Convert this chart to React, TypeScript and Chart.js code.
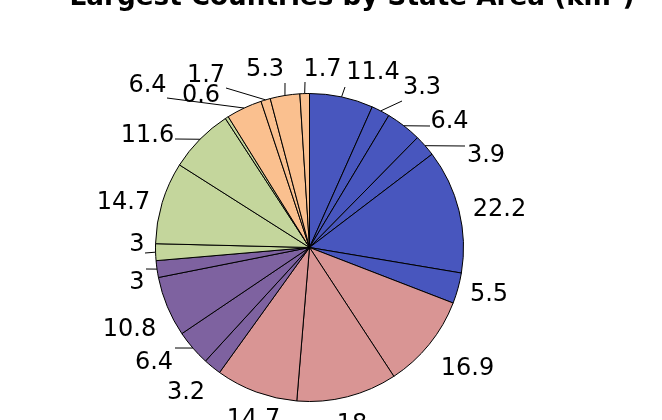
import React, { useEffect, useRef } from "react";
import { Chart, registerables } from "chart.js";

Chart.register(...registerables);

// ---- data ----
const categories = [
  "A1", "A2", "A3", "A4", "A5", "A6",
  "B1", "B2", "B3",
  "C1", "C2", "C3", "C4",
  "D1", "D2", "D3", "D4",
  "E1", "E2", "E3", "E4",
];
const values = [
  11.4, 3.3, 6.4, 3.9, 22.2, 5.5,
  16.9, 18, 14.7,
  3.2, 6.4, 10.8, 3,
  3, 14.7, 11.6, 0.6,
  6.4, 1.7, 5.3, 1.7,
];
const groups = [
  "A", "A", "A", "A", "A", "A",
  "B", "B", "B",
  "C", "C", "C", "C",
  "D", "D", "D", "D",
  "E", "E", "E", "E",
];
const titleText = "Largest Countries by State Area (km²)";

// ---- style / layout ----
const groupColors: Record<string, string> = {
  A: "#4856BE",
  B: "#D99594",
  C: "#7E62A0",
  D: "#C4D69C",
  E: "#FAC08F",
};
// label centers relative to pie center (px)
const labelOffsets: [number, number][] = [
  [63.5, -177.5], [112.5, -162.5], [140, -128], [176.5, -94.5], [190, -40], [179.5, 44.5],
  [158, 118.5], [42.5, 174.5], [-56, 169.5],
  [-123.5, 142.5], [-155.5, 112.5], [-180, 79.5], [-172.5, 32.5],
  [-172.5, -5.5], [-186, -47.5], [-162, -114.5], [-108.5, -154.5],
  [-162, -164], [-103.5, -174.5], [-44.5, -180.5], [13, -180.5],
];
// leader line end points relative to pie center (null: no line)
const leaderEnds: ([number, number] | null)[] = [
  [35.5, -160.5], [92.5, -146.5], [120.5, -121.5], [155.5, -101.5], null, null,
  null, null, null,
  null, [-134.5, 100.5], null, [-163.5, 21.5],
  [-164.5, 5.5], null, [-134.5, -108.5], null,
  [-142.5, -149.5], [-83.5, -159.5], [-24.5, -164.5], [-4.5, -165.5],
];

const FONT = "DejaVu Sans";

const labelPlugin = {
  id: "pieLabels",
  afterDatasetsDraw(chart: any) {
    const ctx = chart.ctx as CanvasRenderingContext2D;
    const meta = chart.getDatasetMeta(0);
    ctx.save();
    meta.data.forEach((arc: any, i: number) => {
      const p = arc.getProps(["x", "y", "startAngle", "endAngle", "outerRadius"], true);
      const mid = (p.startAngle + p.endAngle) / 2;
      const lead = leaderEnds[i];
      if (lead) {
        ctx.beginPath();
        ctx.strokeStyle = "#000";
        ctx.lineWidth = 1;
        ctx.moveTo(p.x + Math.cos(mid) * p.outerRadius, p.y + Math.sin(mid) * p.outerRadius);
        ctx.lineTo(p.x + lead[0], p.y + lead[1]);
        ctx.stroke();
      }
      const off = labelOffsets[i];
      const fs = 24;
      ctx.font = `${fs}px "${FONT}"`;
      ctx.fillStyle = "#000";
      ctx.textAlign = "center";
      ctx.textBaseline = "alphabetic";
      ctx.fillText(String(values[i]), p.x + off[0], p.y + off[1] + fs * 0.365);
    });
    ctx.restore();
  },
  afterDraw(chart: any) {
    const ctx = chart.ctx as CanvasRenderingContext2D;
    ctx.save();
    const base = 34;
    ctx.font = `bold ${base}px "${FONT}"`;
    const w = ctx.measureText(titleText).width;
    const target = 565;
    const fs = (base * target) / w;
    ctx.font = `bold ${fs}px "${FONT}"`;
    ctx.fillStyle = "#000";
    ctx.textAlign = "center";
    ctx.textBaseline = "alphabetic";
    ctx.fillText(titleText, 352, 5);
    ctx.restore();
  },
};

export default function App() {
  const ref = useRef<HTMLCanvasElement | null>(null);
  useEffect(() => {
    if (!ref.current) return;
    const chart = new Chart(ref.current, {
      type: "pie",
      data: {
        labels: categories,
        datasets: [
          {
            data: values,
            backgroundColor: groups.map((g) => groupColors[g]),
            borderColor: "#000",
            borderWidth: 1,
          },
        ],
      },
      options: {
        animation: false,
        responsive: false,
        maintainAspectRatio: false,
        layout: { padding: { left: 155, top: 93, right: 198, bottom: 18 } },
        plugins: {
          legend: { display: false },
          tooltip: { enabled: false },
          title: { display: false },
        },
      },
      plugins: [labelPlugin],
    });
    return () => chart.destroy();
  }, []);
  return (
    <div style={{ position: "fixed", left: 0, top: 0, width: 662, height: 420, background: "#fff" }}>
      <canvas ref={ref} width={662} height={420} style={{ display: "block" }} />
    </div>
  );
}
